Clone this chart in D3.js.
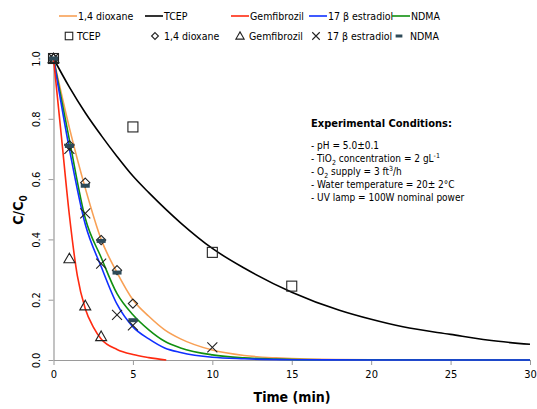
<!DOCTYPE html>
<html>
<head>
<meta charset="utf-8">
<script src="https://cdn.jsdelivr.net/npm/d3@7"></script>
<style>
  html, body { margin: 0; padding: 0; background: #fff; }
  svg { display: block; }
  text { font-family: "DejaVu Sans Condensed", "DejaVu Sans", sans-serif; font-stretch: condensed; fill: #000; }
</style>
</head>
<body>
<svg id="chart" width="537" height="409"></svg>
<script>
// Fitted decay curves (C/C0 vs time, min)
const curveDioxaneT = [0, 1, 2, 3, 4, 5, 6, 7, 8, 10, 12, 14, 16, 20, 30];
const curveDioxane  = [1, 0.77, 0.57, 0.40, 0.29, 0.20, 0.145, 0.10, 0.07, 0.033, 0.015, 0.007, 0.003, 0.001, 0];
const curveTcepT = [0, 1, 2, 3, 4, 5, 6, 8, 10, 12, 15, 18, 20, 22, 25, 28, 30];
const curveTcep  = [1, 0.905, 0.82, 0.745, 0.675, 0.61, 0.555, 0.455, 0.37, 0.305, 0.225, 0.165, 0.135, 0.11, 0.085, 0.062, 0.052];
const curveGemT = [0, 0.5, 1, 1.5, 2, 2.5, 3, 4, 5, 6, 7.1];
const curveGem  = [1, 0.74, 0.48, 0.28, 0.17, 0.11, 0.07, 0.035, 0.018, 0.008, 0];
const curveEstT = [0, 1, 2, 3, 4, 5, 6, 7, 8, 10, 12, 15, 20, 30];
const curveEst  = [1, 0.70, 0.45, 0.31, 0.185, 0.11, 0.07, 0.04, 0.025, 0.009, 0.004, 0.001, 0, 0];
const curveNdmaT = [0, 1, 2, 3, 4, 5, 6, 7, 8, 10, 12, 14, 17, 30];
const curveNdma  = [1, 0.73, 0.47, 0.34, 0.22, 0.15, 0.10, 0.062, 0.04, 0.017, 0.007, 0.003, 0.001, 0];

// Measured points
const obsTcepT = [0, 5, 10, 15];
const obsTcep  = [1, 0.773, 0.357, 0.245];
const obsDioxaneT = [0, 1, 2, 3, 4, 5];
const obsDioxane  = [1, 0.712, 0.588, 0.398, 0.298, 0.187];
const obsGemT = [0, 1, 2, 3];
const obsGem  = [1, 0.336, 0.18, 0.078];
const obsEstT = [0, 1, 2, 3, 4, 5, 10];
const obsEst  = [1, 0.70, 0.486, 0.32, 0.15, 0.115, 0.042];
const obsNdmaT = [0, 1, 2, 3, 4, 5];
const obsNdma  = [1, 0.71, 0.578, 0.395, 0.29, 0.132];

const xTicks = [0, 5, 10, 15, 20, 25, 30];
const yTicks = [0, 0.2, 0.4, 0.6, 0.8, 1.0];

const conditions = [
  ["- pH = 5.0±0.1"],
  ["- TiO", {sub: "2"}, " concentration = 2 gL", {sup: "-1"}],
  ["- O", {sub: "2"}, " supply = 3 ft", {sup: "3"}, "/h"],
  ["- Water temperature = 20± 2°C"],
  ["- UV lamp = 100W nominal power"]
];

const C = {
  dioxane: "#f8a055",
  tcep: "#000000",
  gem: "#ff2a10",
  est: "#1030ff",
  ndma: "#109010",
  marker: "#222222",
  dash: "#2e4a58",
  axis: "#9a9a9a"
};

const svg = d3.select("#chart");
const x = d3.scaleLinear().domain([0, 30]).range([53.5, 530]);
const y = d3.scaleLinear().domain([0, 1]).range([360, 58.5]);

// Axes
const xAxis = svg.append("g").attr("transform", "translate(0,360)")
  .call(d3.axisBottom(x).tickValues(xTicks).tickFormat(d3.format("d")).tickSize(5).tickSizeOuter(0));
xAxis.selectAll("text").attr("font-size", 11).attr("dy", "0.95em");
const yAxis = svg.append("g").attr("transform", "translate(53.5,0)")
  .call(d3.axisLeft(y).tickValues(yTicks).tickFormat(d3.format(".1f")).tickSize(5).tickSizeOuter(0));
yAxis.selectAll(".tick text")
  .attr("font-size", 11)
  .attr("text-anchor", "middle")
  .attr("transform", "rotate(-90)")
  .attr("x", 0).attr("y", -14).attr("dy", "0");
[xAxis, yAxis].forEach(a => {
  a.select(".domain").attr("stroke", C.axis).attr("stroke-width", 1.2);
  a.selectAll(".tick line").attr("stroke", C.axis);
  a.attr("font-family", null);
});

// Axis titles
svg.append("text").attr("x", 292).attr("y", 402).attr("text-anchor", "middle")
  .attr("font-size", 14).attr("font-weight", "bold").text("Time (min)");
const yt = svg.append("text").attr("transform", "translate(23,210) rotate(-90)")
  .attr("text-anchor", "middle").attr("font-size", 14).attr("font-weight", "bold");
yt.append("tspan").text("C/C");
yt.append("tspan").attr("font-size", 10).attr("dy", 4).text("0");

// Curves
const line = d3.line().x(d => x(d[0])).y(d => y(d[1])).curve(d3.curveMonotoneX);
const curves = [
  [curveDioxaneT, curveDioxane, C.dioxane],
  [curveTcepT, curveTcep, C.tcep],
  [curveNdmaT, curveNdma, C.ndma],
  [curveEstT, curveEst, C.est],
  [curveGemT, curveGem, C.gem]
];
curves.forEach(([ts, vs, col]) => {
  svg.append("path").datum(ts.map((t, i) => [t, vs[i]]))
    .attr("d", line).attr("fill", "none").attr("stroke", col).attr("stroke-width", 1.6);
});

// Marker drawing helper
function drawMarker(g, type, cx, cy, s = 1) {
  const r = 5 * s;
  if (type === "square") {
    g.append("rect").attr("x", cx - r).attr("y", cy - r).attr("width", 2 * r).attr("height", 2 * r)
      .attr("fill", "none").attr("stroke", C.marker).attr("stroke-width", 1.1);
  } else if (type === "diamond") {
    const d = 4.6 * s;
    g.append("path").attr("d", `M${cx},${cy - d}L${cx + d},${cy}L${cx},${cy + d}L${cx - d},${cy}Z`)
      .attr("fill", "none").attr("stroke", C.marker).attr("stroke-width", 1.1);
  } else if (type === "triangle") {
    const a = 5.5 * s;
    g.append("path").attr("d", `M${cx},${cy - a}L${cx + a},${cy + 0.75 * a}L${cx - a},${cy + 0.75 * a}Z`)
      .attr("fill", "none").attr("stroke", C.marker).attr("stroke-width", 1.1);
  } else if (type === "cross") {
    g.append("path").attr("d", `M${cx - r},${cy - r}L${cx + r},${cy + r}M${cx - r},${cy + r}L${cx + r},${cy - r}`)
      .attr("stroke", C.marker).attr("stroke-width", 1.1);
  } else if (type === "dash") {
    g.append("rect").attr("x", cx - 4.5 * s).attr("y", cy - 2 * s).attr("width", 9 * s).attr("height", 4 * s)
      .attr("fill", C.dash);
  }
}

const series = [
  [obsTcepT, obsTcep, "square"],
  [obsDioxaneT, obsDioxane, "diamond"],
  [obsGemT, obsGem, "triangle"],
  [obsEstT, obsEst, "cross"],
  [obsNdmaT, obsNdma, "dash"]
];
const mg = svg.append("g");
series.forEach(([ts, vs, type]) => {
  ts.forEach((t, i) => drawMarker(mg, type, x(t), y(vs[i])));
});

// Legend
const legLines = [
  ["1,4 dioxane", C.dioxane, 59, 77],
  ["TCEP", C.tcep, 145, 163],
  ["Gemfibrozil", C.gem, 231, 249],
  ["17 β estradiol", C.est, 309, 327],
  ["NDMA", C.ndma, 392, 410]
];
const lg = svg.append("g");
legLines.forEach(([label, col, x0, x1]) => {
  lg.append("line").attr("x1", x0).attr("x2", x1).attr("y1", 16).attr("y2", 16)
    .attr("stroke", col).attr("stroke-width", 1.6);
  lg.append("text").attr("x", x1 + 1).attr("y", 20).attr("font-size", 10.5).text(label);
});
const legMarks = [
  ["TCEP", "square", 69, 77],
  ["1,4 dioxane", "diamond", 155, 164],
  ["Gemfibrozil", "triangle", 240, 249],
  ["17 β estradiol", "cross", 316, 327],
  ["NDMA", "dash", 399, 410]
];
legMarks.forEach(([label, type, mx, tx]) => {
  drawMarker(lg, type, mx, 36, 0.75);
  lg.append("text").attr("x", tx).attr("y", 40).attr("font-size", 10.5).text(label);
});

// Experimental conditions note
svg.append("text").attr("x", 311).attr("y", 127).attr("font-size", 11).attr("font-weight", "bold")
  .text("Experimental Conditions:");
conditions.forEach((parts, i) => {
  const t = svg.append("text").attr("x", 311).attr("y", 149 + i * 13).attr("font-size", 10);
  let shift = 0; // baseline offset carried by the previous tspan
  parts.forEach(p => {
    if (typeof p === "string") {
      t.append("tspan").attr("dy", -shift).text(p);
      shift = 0;
    } else if (p.sub) {
      t.append("tspan").attr("font-size", 7).attr("dy", 2.5 - shift).text(p.sub);
      shift = 2.5;
    } else if (p.sup) {
      t.append("tspan").attr("font-size", 7).attr("dy", -4 - shift).text(p.sup);
      shift = -4;
    }
  });
});
</script>
</body>
</html>
